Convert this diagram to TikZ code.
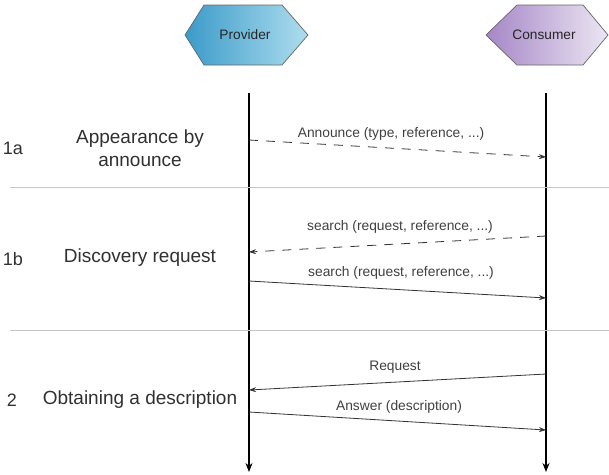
\documentclass[tikz,border=0pt]{standalone}
\usepackage{fontspec}
\setmainfont{Liberation Sans}
\usetikzlibrary{arrows.meta}
\definecolor{provL}{HTML}{3B9BC9}
\definecolor{provR}{HTML}{AEDDEE}
\definecolor{consL}{HTML}{A587C6}
\definecolor{consR}{HTML}{ECE6F3}
\definecolor{txt}{HTML}{303030}
\definecolor{msgtxt}{HTML}{404040}
\begin{document}
\begin{tikzpicture}[x=1pt,y=-1pt,
  hexbox/.style={draw=gray!80!black, line width=0.7pt},
  lifeline/.style={draw=black, line width=1.4pt, -{Stealth[length=9pt,width=7pt]}},
  sepline/.style={draw=gray!45, line width=0.9pt},
  msg/.style={draw=black!80, line width=0.8pt, -{Stealth[length=7pt,width=5pt]}},
  dmsg/.style={msg, dash pattern=on 9pt off 8pt},
  msglabel/.style={text=msgtxt, font=\fontsize{13.8}{16}\selectfont},
  sidelabel/.style={text=txt, font=\fontsize{19}{23}\selectfont, align=center},
  numlabel/.style={text=txt, font=\fontsize{18}{21}\selectfont},
  hexlabel/.style={text=black!85, font=\fontsize{13.7}{16}\selectfont}]
\useasboundingbox (0,0) rectangle (609,474);
% hexagons
\shade[hexbox, left color=provL, right color=provR]
  (185,35) -- (204,5) -- (282,5) -- (308,35) -- (282,65) -- (204,65) -- cycle;
\shade[hexbox, left color=consL, right color=consR]
  (486,35) -- (517,5) -- (583,5) -- (608,35) -- (583,65) -- (517,65) -- cycle;
\node[hexlabel] (provider) at (245,35) {Provider};
\node[hexlabel] (consumer) at (544,35) {Consumer};
% lifelines
\coordinate (ptop) at (249,93);
\coordinate (pbot) at (249,472);
\coordinate (ctop) at (546,93);
\coordinate (cbot) at (546,472);
\draw[lifeline] (ptop) -- (pbot);
\draw[lifeline] (ctop) -- (cbot);
% separators
\coordinate (s1l) at (10,187);
\coordinate (s1r) at (609,187);
\coordinate (s2l) at (10,330);
\coordinate (s2r) at (609,330);
\draw[sepline] (s1l) -- (s1r);
\draw[sepline] (s2l) -- (s2r);
% side labels
\node[numlabel] (n1a) at (13,148) {1a};
\node[sidelabel] (l1a) at (140,148) {Appearance by\\announce};
\node[numlabel] (n1b) at (13,259) {1b};
\node[sidelabel] (l1b) at (140,258) {Discovery request};
\node[numlabel] (n2) at (12,400) {2};
\node[sidelabel] (l2) at (140,400) {Obtaining a description};
% message endpoints
\coordinate (a1) at (249,140);
\coordinate (a2) at (546,157);
\coordinate (b1) at (546,236);
\coordinate (b2) at (249,252);
\coordinate (c1) at (249,281);
\coordinate (c2) at (546,298);
\coordinate (d1) at (546,374);
\coordinate (d2) at (249,390);
\coordinate (e1) at (249,412);
\coordinate (e2) at (546,430);
\draw[dmsg] (a1) -- (a2);
\draw[dmsg] (b1) -- (b2);
\draw[msg] (c1) -- (c2);
\draw[msg] (d1) -- (d2);
\draw[msg] (e1) -- (e2);
% message labels
\node[msglabel] (ma) at (391,134) {Announce (type, reference, ...)};
\node[msglabel] (mb) at (400,227) {search (request, reference, ...)};
\node[msglabel] (mc) at (401,273) {search (request, reference, ...)};
\node[msglabel] (md) at (395,367) {Request};
\node[msglabel] (me) at (399,407) {Answer (description)};
\end{tikzpicture}
\end{document}
